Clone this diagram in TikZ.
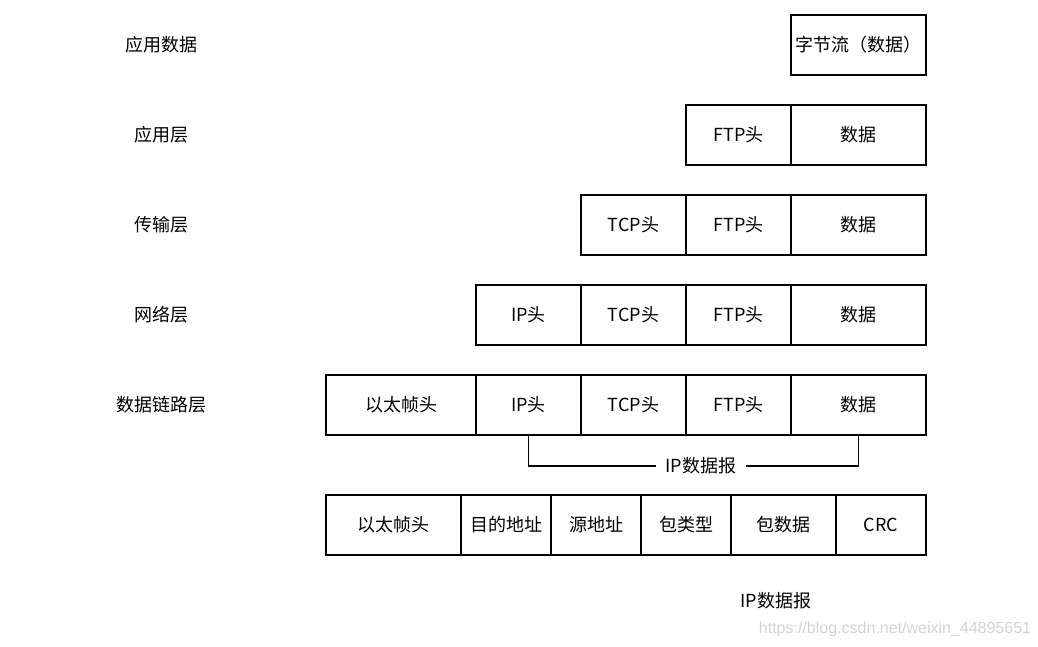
\documentclass[tikz,border=0pt]{standalone}
\usepackage{fontspec}
\setmainfont{Noto Sans CJK SC}
\newfontfamily\wmfont{Liberation Sans}
\usetikzlibrary{positioning}

\begin{document}
\begin{tikzpicture}[x=1pt,y=-1pt,node distance=0pt]
    \tikzstyle{cell} = [rectangle, draw, line width=1.2pt, minimum height=60pt,
        inner sep=0pt, outer sep=0pt, font=\fontsize{18}{21}\selectfont]
    \tikzstyle{layer} = [font=\fontsize{18}{21}\selectfont]
    \tikzstyle{line} = [draw, line width=1.2pt]
    \useasboundingbox (0,0) rectangle (1038,647);

    % Application data
    \node[layer] (appdata) at (161,45) {应用数据};
    \node[cell, minimum width=135pt, anchor=west] (stream) at (791,45) {字节流（数据）};
    % Application layer
    \node[layer] (appname) at (161,135) {应用层};
    \node[cell, minimum width=105pt, anchor=west] (ftpa) at (686,135) {FTP头};
    \node[cell, minimum width=135pt, right=of ftpa] (dataa) {数据};
    % Transport layer
    \node[layer] (tranname) at (161,225) {传输层};
    \node[cell, minimum width=105pt, anchor=west] (tcpt) at (581,225) {TCP头};
    \node[cell, minimum width=105pt, right=of tcpt] (ftpt) {FTP头};
    \node[cell, minimum width=135pt, right=of ftpt] (datat) {数据};
    % Network layer
    \node[layer] (netname) at (161,315) {网络层};
    \node[cell, minimum width=105pt, anchor=west] (ipn) at (476,315) {IP头};
    \node[cell, minimum width=105pt, right=of ipn] (tcpn) {TCP头};
    \node[cell, minimum width=105pt, right=of tcpn] (ftpn) {FTP头};
    \node[cell, minimum width=135pt, right=of ftpn] (datan) {数据};
    % Data link layer
    \node[layer] (linkname) at (161,405) {数据链路层};
    \node[cell, minimum width=150pt, anchor=west] (ethl) at (326,405) {以太帧头};
    \node[cell, minimum width=105pt, right=of ethl] (ipl) {IP头};
    \node[cell, minimum width=105pt, right=of ipl] (tcpl) {TCP头};
    \node[cell, minimum width=105pt, right=of tcpl] (ftpl) {FTP头};
    \node[cell, minimum width=135pt, right=of ftpl] (datal) {数据};

    \node[layer, inner xsep=9pt] (dgram) at (701,466) {IP数据报};
    \draw[line] (ipl.south) |- (dgram.west);
    \draw[line] (dgram.east) -| (datal.south);

    % Ethernet frame
    \node[cell, minimum width=135pt, anchor=west] (ethf) at (326,525) {以太帧头};
    \node[cell, minimum width=90pt, right=of ethf] (dst) {目的地址};
    \node[cell, minimum width=90pt, right=of dst] (src) {源地址};
    \node[cell, minimum width=90pt, right=of src] (type) {包类型};
    \node[cell, minimum width=105pt, right=of type] (payload) {包数据};
    \node[cell, minimum width=90pt, right=of payload] (crc) {CRC};

    \node[layer] (dgramtxt) at (776,601) {IP数据报};
    \node[font=\wmfont\fontsize{16}{19}\selectfont, text=gray!35] (wmark) at (895,629)
        {https://blog.csdn.net/weixin\_44895651};
\end{tikzpicture}
\end{document}
